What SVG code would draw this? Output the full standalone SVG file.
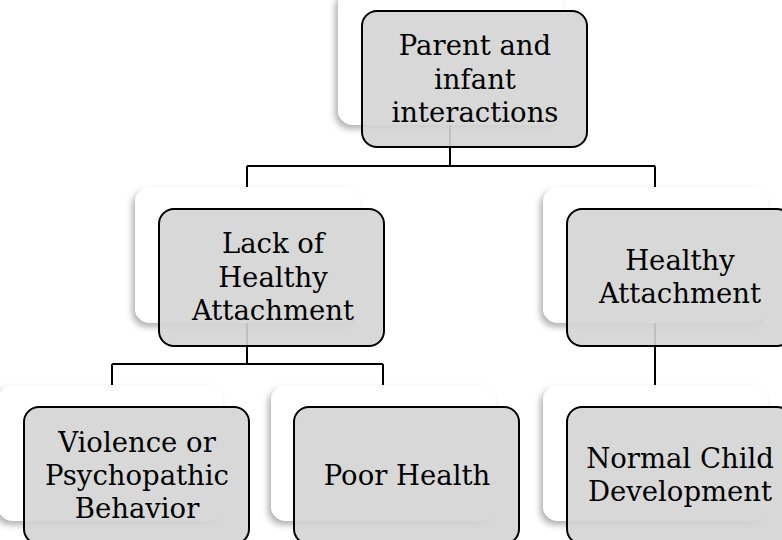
<svg xmlns="http://www.w3.org/2000/svg" width="782" height="540" viewBox="0 0 782 540">
<defs>
<filter id="sh" x="-10%" y="-10%" width="120%" height="130%">
<feDropShadow dx="-3" dy="4" stdDeviation="3" flood-color="#000" flood-opacity="0.3"/>
</filter>
</defs>
<style>
.card{fill:#ffffff;filter:url(#sh);}
.box{fill:#d4d4d4;fill-opacity:0.9;stroke:#000;stroke-width:2;}
.lbl{font-family:"DejaVu Serif","Liberation Serif",serif;font-size:27.5px;fill:#000;text-anchor:middle;}
.conn{fill:none;stroke:#000;stroke-width:2;}
</style>
<rect width="782" height="540" fill="#fff"/>
<g id="connectors">
<path class="conn" d="M450,79 V166 M247,166 H655 M247,166 V187 M655,166 V187"/>
<path class="conn" d="M247,278 V364 M112,364 H383 M112,364 V385 M383,364 V385"/>
<path class="conn" d="M655,278 V385"/>
</g>
<g id="n1">
<rect class="card" x="338" y="-11" width="225" height="136" rx="15"/>
<rect class="box" x="362" y="11" width="225" height="136" rx="15"/>
<text class="lbl" x="475" y="55">Parent and</text>
<text class="lbl" x="475" y="88.5">infant</text>
<text class="lbl" x="475" y="122">interactions</text>
</g>
<g id="n2">
<rect class="card" x="135" y="187" width="225" height="136" rx="15"/>
<rect class="box" x="159" y="209" width="225" height="137" rx="15"/>
<text class="lbl" x="273" y="253">Lack of</text>
<text class="lbl" x="273" y="286.5">Healthy</text>
<text class="lbl" x="273" y="320">Attachment</text>
</g>
<g id="n3">
<rect class="card" x="543" y="187" width="225" height="136" rx="15"/>
<rect class="box" x="567" y="209" width="225" height="137" rx="15"/>
<text class="lbl" x="680" y="270">Healthy</text>
<text class="lbl" x="680" y="303">Attachment</text>
</g>
<g id="n4">
<rect class="card" x="-2" y="385" width="225" height="136" rx="15"/>
<rect class="box" x="24" y="407" width="225" height="137" rx="15"/>
<text class="lbl" x="137" y="452">Violence or</text>
<text class="lbl" x="137" y="485">Psychopathic</text>
<text class="lbl" x="137" y="518">Behavior</text>
</g>
<g id="n5">
<rect class="card" x="271" y="385" width="225" height="136" rx="15"/>
<rect class="box" x="294" y="407" width="225" height="137" rx="15"/>
<text class="lbl" x="407" y="485">Poor Health</text>
</g>
<g id="n6">
<rect class="card" x="543" y="385" width="225" height="136" rx="15"/>
<rect class="box" x="567" y="407" width="225" height="137" rx="15"/>
<text class="lbl" x="680" y="468">Normal Child</text>
<text class="lbl" x="680" y="501">Development</text>
</g>
</svg>
